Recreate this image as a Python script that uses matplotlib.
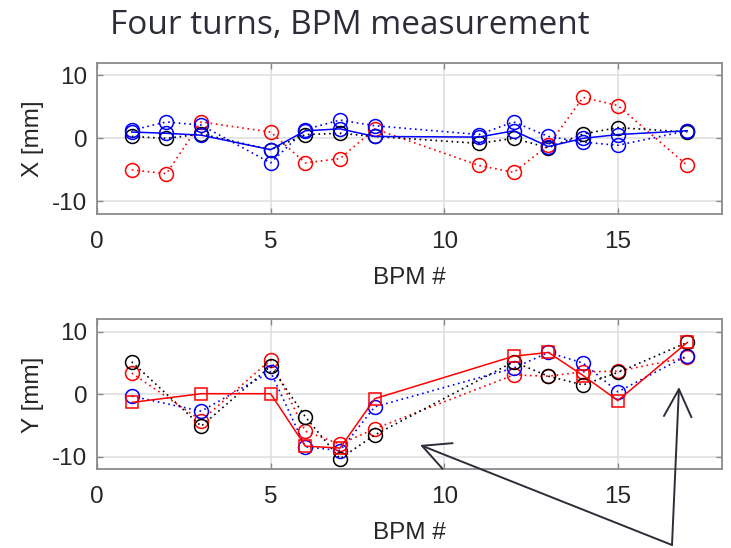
import matplotlib
matplotlib.use('Agg')
import matplotlib.pyplot as plt
from matplotlib.patches import FancyArrowPatch

# BPM indices that have readings in each plane
bpm_x = [1, 2, 3, 5, 6, 7, 8, 11, 12, 13, 14, 15, 17]
bpm_y = [1, 3, 5, 6, 7, 8, 12, 13, 14, 15, 17]

# horizontal orbit [mm], one list per turn
x_turn1 = [1.0, 0.8, 0.5, -1.8, 1.2, 1.5, 0.3, 0.2, 1.2, -1.3, 0.0, 0.6, 1.2]
x_turn2 = [-5.0, -5.6, 2.6, 1.0, -3.9, -3.2, 1.5, -4.3, -5.4, -1.1, 6.5, 5.2, -4.3]
x_turn3 = [1.3, 2.6, 2.1, -3.9, 1.4, 2.9, 2.0, 0.6, 2.6, 0.3, -0.6, -1.1, 1.2]
x_turn4 = [0.3, 0.0, 0.7, -1.8, 0.6, 0.8, 0.3, -0.8, 0.0, -1.5, 0.7, 1.7, 1.0]

# vertical orbit [mm]
y_turn1 = [-1.3, 0.1, 0.1, -8.3, -8.6, -0.7, 6.1, 6.7, 3.0, -1.0, 8.3]
y_turn2 = [3.4, -4.2, 5.5, -5.9, -8.0, -5.5, 3.1, 2.9, 3.6, 3.7, 5.9]
y_turn3 = [-0.3, -2.7, 3.6, -8.4, -9.0, -2.0, 4.2, 6.7, 5.0, 0.4, 6.2]
y_turn4 = [5.2, -5.1, 4.5, -3.6, -10.3, -6.5, 5.2, 2.9, 1.5, 3.5, 8.3]

x_ticks = [0, 5, 10, 15]
y_ticks = [-10, 0, 10]

TXT = '#262626'
DOTS = (0, (1, 2.2))


def style_axes(ax, ylabel):
    ax.set_xlim(0, 18)
    ax.set_ylim(-12, 12)
    ax.set_xticks(x_ticks)
    ax.set_yticks(y_ticks)
    ax.grid(True, color='#e0e0e0', lw=1.2)
    ax.set_axisbelow(True)
    for s in ax.spines.values():
        s.set_color('#8a8a8a')
        s.set_linewidth(1.3)
    ax.tick_params(direction='in', length=4, width=1, color='#8a8a8a',
                   top=True, right=True, labelsize=17.5, labelcolor=TXT)
    ax.tick_params(axis='x', pad=12)
    ax.tick_params(axis='y', pad=7)
    ax.set_xlabel('BPM #', fontsize=17.5, color=TXT, labelpad=10)
    ax.set_ylabel(ylabel, fontsize=17.5, color=TXT, labelpad=6)


plt.rcParams['font.family'] = ['Liberation Sans', 'DejaVu Sans']
plt.rcParams['axes.unicode_minus'] = False

fig = plt.figure(figsize=(7.31, 5.48), dpi=100)
ax1 = fig.add_axes([0.1327, 0.6095, 0.855, 0.2761])
ax2 = fig.add_axes([0.1327, 0.1436, 0.855, 0.2737])

mk = dict(marker='o', ms=10, mfc='none', mew=1.1)

ax1.plot(bpm_x, x_turn2, color='#ff0000', ls=DOTS, lw=1.2, **mk)
ax1.plot(bpm_x, x_turn3, color='#0000ff', ls=DOTS, lw=1.2, **mk)
ax1.plot(bpm_x, x_turn4, color='#000000', ls=DOTS, lw=1.2, **mk)
ax1.plot(bpm_x, x_turn1, color='#0000ff', ls='-', lw=1.1, **mk)
style_axes(ax1, 'X [mm]')

ax2.plot(bpm_y, y_turn2, color='#ff0000', ls=DOTS, lw=1.2, **mk)
ax2.plot(bpm_y, y_turn3, color='#0000ff', ls=DOTS, lw=1.2, **mk)
ax2.plot(bpm_y, y_turn4, color='#000000', ls=DOTS, lw=1.2, **mk)
ax2.plot(bpm_y, y_turn1, color='#ff0000', ls='-', lw=1.1,
         marker='s', ms=8.5, mfc='none', mew=1.1)
style_axes(ax2, 'Y [mm]')

fig.text(110 / 731, 1 - 34 / 548, 'Four turns, BPM measurement',
         family=['Open Sans', 'DejaVu Sans'], fontsize=24, color='#2d2d3a',
         ha='left', va='baseline')

# two arrows from a common tail at the bottom of the slide
tail = (672 / 731, 1 - 545 / 548)
for tip in [(420 / 731, 1 - 445 / 548), (679 / 731, 1 - 387 / 548)]:
    fig.add_artist(FancyArrowPatch(tail, tip, transform=fig.transFigure,
                                   arrowstyle='->,head_length=1.1,head_width=0.55',
                                   mutation_scale=18, color='#2d2d3a', lw=1.4,
                                   shrinkA=0, shrinkB=0, clip_on=False))

fig.savefig('out.png', dpi=100)
